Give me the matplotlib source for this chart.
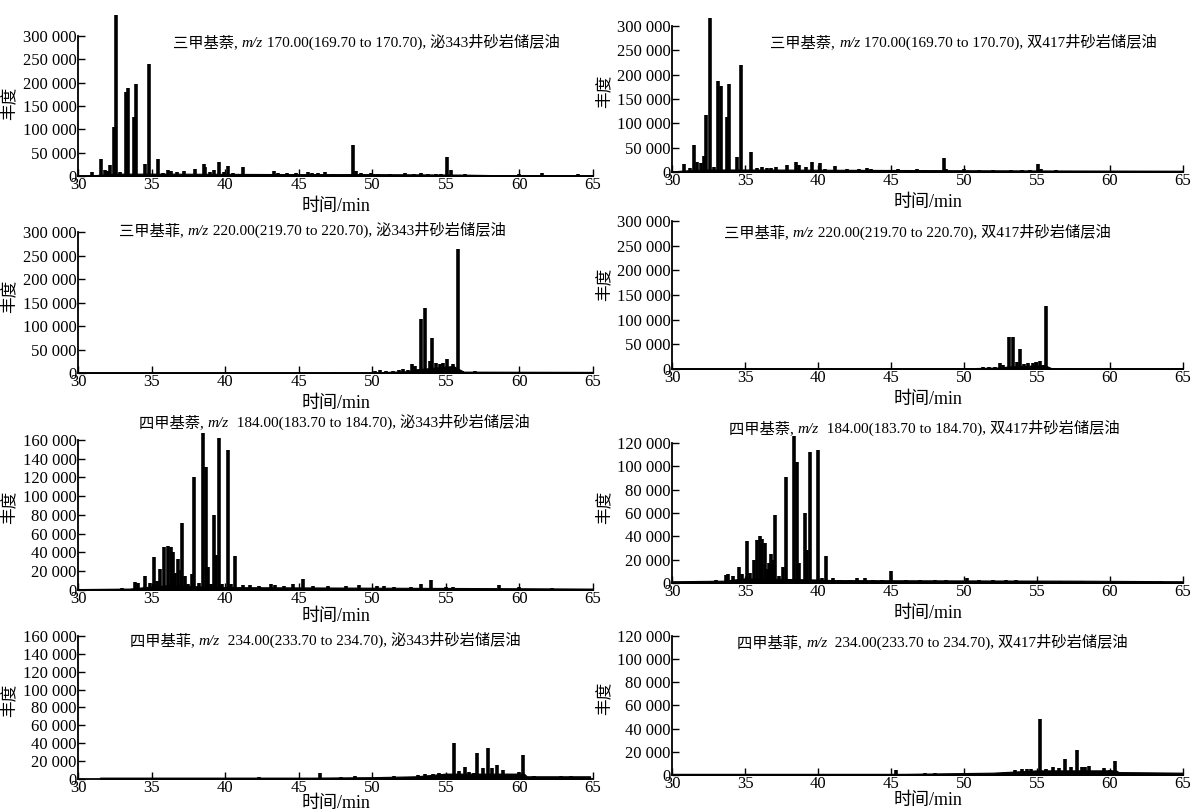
import matplotlib.pyplot as plt
from matplotlib.ticker import MultipleLocator, FuncFormatter
from matplotlib.offsetbox import TextArea, HPacker, AnnotationBbox

plt.rcParams['font.family'] = ['Liberation Serif', 'Noto Sans CJK SC']

# a = 泌343井, b = 双417井
# 三甲基萘 m/z 170
tmn_a_t = [30.96, 31.56, 31.8, 32.05, 32.2, 32.42, 32.60, 32.85, 33.25, 33.38, 33.83, 33.96, 34.55, 34.79, 35.46,
           35.8, 36.1, 36.35, 36.75, 37.2, 37.94, 38.54, 38.66, 39.0, 39.24, 39.6, 39.9, 40.17, 40.5, 41.2, 41.8,
           42.5, 43.35, 43.6, 44.2, 44.8, 45.6, 45.9, 46.3, 46.8, 47.3, 48.68, 48.87, 49.2, 49.9, 50.4, 51.2, 52.2,
           52.8, 53.3, 53.8, 54.3, 54.7, 55.06, 55.37, 56.3, 57.4, 59.5, 60.0, 61.56, 62.1, 63.95]
tmn_a_h = [8000, 37000, 12000, 10000, 23000, 104000, 344000, 8000, 180000, 188000, 126000, 198000, 25000, 239000, 37000,
           6000, 12000, 10000, 8000, 10000, 15000, 26000, 20000, 8000, 12000, 30000, 8000, 22000, 6000, 20000, 5000,
           5000, 10000, 7000, 6000, 6000, 8000, 7000, 6000, 8000, 5000, 66000, 10000, 6000, 6000, 5000, 5000, 6000,
           5000, 6000, 5000, 5000, 5000, 40000, 13000, 4000, 3000, 3000, 4000, 6000, 3000, 4000]
tmn_a_bt = [30, 31, 32.5, 36, 45, 50, 56, 58, 65]
tmn_a_bv = [800, 1500, 5000, 5000, 4000, 4000, 3000, 2000, 1500]

tmn_b_t = [30.85, 31.2, 31.54, 31.74, 32.0, 32.18, 32.36, 32.59, 32.9, 33.18, 33.36, 33.74, 33.92, 34.46, 34.74,
           35.41, 35.8, 36.15, 36.5, 36.8, 37.13, 37.9, 38.51, 38.7, 39.2, 39.56, 40.15, 40.5, 41.18, 42.0, 42.8,
           43.33, 43.6, 44.5, 45.5, 46.0, 46.8, 47.3, 48.6, 48.8, 50.0, 51.0, 52.0, 53.2, 54.0, 54.5, 55.08, 55.28,
           56.3, 58.0, 61.6, 63.9]
tmn_b_h = [17000, 8000, 55000, 20000, 18000, 32000, 117000, 316000, 10000, 187000, 176000, 112000, 181000, 30000, 219000,
           41000, 8000, 10000, 9000, 8000, 10000, 14000, 21000, 15000, 10000, 21000, 19000, 6000, 13000, 5000, 5000,
           8000, 6000, 4000, 5000, 4000, 5000, 4000, 28000, 6000, 5000, 3000, 4000, 3000, 3000, 3000, 17000, 6000,
           3000, 2000, 2000, 2000]
tmn_b_bt = [30, 30.6, 32, 36, 45, 50, 56, 65]
tmn_b_bv = [1000, 2500, 5000, 5000, 4000, 3500, 3000, 2500]

# 三甲基菲 m/z 220
tmp_a_t = [47.4, 50.2, 50.5, 50.9, 51.4, 51.8, 52.1, 52.4, 52.72, 52.9, 53.29, 53.6, 53.94, 54.07, 54.3, 54.59,
           54.8, 55.1, 55.45, 55.84, 56.1, 57.0, 57.8, 60.3, 63.2]
tmp_a_h = [2000, 4000, 6000, 5000, 5000, 7000, 8000, 7000, 19000, 15000, 114000, 139000, 25000, 75000, 22000, 20000,
           22000, 30000, 20000, 264000, 5000, 4000, 3000, 3000, 3000]
tmp_a_bt = [30, 50, 52.5, 53, 55.5, 56.2, 65]
tmp_a_bv = [1500, 1500, 4000, 8000, 15000, 3000, 2500]

tmp_b_t = [50.2, 50.8, 51.3, 51.7, 52.1, 52.5, 52.7, 53.08, 53.36, 53.6, 53.85, 54.1, 54.4, 54.7, 54.95, 55.18,
           55.64, 56.8]
tmp_b_h = [3000, 3000, 4000, 4000, 5000, 13000, 8000, 65000, 65000, 15000, 41000, 11000, 12000, 12000, 14000, 17000,
           128000, 2000]
tmp_b_bt = [30, 50, 52.5, 53, 55.5, 56, 65]
tmp_b_bv = [1500, 1500, 3000, 5000, 8000, 1500, 1500]

# 四甲基萘 m/z 184
temn_a_t = [32.5, 33.0, 33.9, 34.1, 34.55, 34.9, 35.15, 35.4, 35.6, 35.86, 36.12, 36.3, 36.43, 36.6, 36.82, 36.97,
            37.1, 37.28, 37.5, 37.73, 37.88, 38.2, 38.48, 38.69, 38.85, 39.05, 39.24, 39.39, 39.58, 39.8, 40.17,
            40.4, 40.7, 41.2, 41.7, 42.3, 43.1, 43.4, 44.0, 44.6, 45.3, 46.0, 47.0, 48.2, 49.1, 50.3, 50.8, 51.5,
            52.6, 53.3, 54.0, 55.0, 55.5, 56.5, 58.6, 60.0, 62.2]
temn_a_h = [1500, 2500, 9000, 7000, 15000, 8000, 35000, 10000, 22000, 46000, 47000, 46000, 40000, 18000, 33000, 21000,
            71000, 15000, 6000, 17000, 120000, 8000, 167000, 131000, 25000, 6000, 80000, 37000, 162000, 6000, 149000,
            6000, 36000, 5000, 5000, 4000, 6000, 5000, 4000, 6000, 12000, 4000, 4000, 4000, 5000, 4000, 4000, 3000,
            3000, 6000, 11000, 3000, 3000, 2500, 5000, 3000, 2000]
temn_a_bt = [30, 33.5, 34.5, 36, 40, 41, 58, 65]
temn_a_bv = [1000, 1500, 3000, 5000, 3000, 3000, 2000, 1500]

temn_b_t = [32.8, 33.0, 33.7, 33.85, 34.2, 34.56, 34.8, 35.13, 35.35, 35.59, 35.82, 36.03, 36.18, 36.36, 36.5, 36.67,
            36.8, 36.9, 37.05, 37.3, 37.6, 37.82, 38.05, 38.38, 38.54, 38.72, 38.9, 39.1, 39.28, 39.44, 39.7, 40.03,
            40.3, 40.54, 41.0, 41.5, 42.2, 42.7, 43.2, 43.8, 44.4, 45.03, 46.0, 47.0, 48.0, 48.8, 50.2, 51.0, 52.0,
            52.87, 53.54, 55.0, 56.6, 58.08, 63.5]
temn_b_h = [2000, 3000, 7000, 8000, 6000, 14000, 8000, 36000, 9000, 20000, 37000, 40000, 38000, 34000, 12000, 17000,
            25000, 20000, 58000, 6000, 14000, 91000, 3000, 126000, 104000, 17000, 3000, 60000, 28000, 112000, 3000, 114000,
            4000, 23000, 4000, 3000, 3000, 4000, 4000, 3000, 3000, 10000, 3000, 2500, 3000, 3000, 4000, 3000, 3000,
            3000, 3000, 2000, 2000, 2000, 1500]
temn_b_bt = [30, 33.5, 35, 40, 41, 58, 65]
temn_b_bv = [1500, 2000, 4000, 3000, 2500, 2000, 1500]

# 四甲基菲 m/z 234
tempn_a_t = [42.3, 46.47, 47.9, 48.8, 51.5, 53.1, 53.6, 54.1, 54.5, 54.9, 55.2, 55.55, 55.9, 56.28, 56.6, 56.9,
             57.14, 57.5, 57.84, 58.1, 58.49, 58.88, 59.3, 59.7, 60.0, 60.26, 61.0, 62.8, 63.5]
tempn_a_h = [2000, 7000, 2500, 3000, 3000, 4000, 5000, 6000, 7000, 6000, 6000, 40000, 9000, 13000, 8000, 7000,
             29000, 12000, 35000, 12000, 16000, 10000, 5000, 6000, 8000, 27000, 3000, 3000, 3000]
tempn_a_bt = [31.5, 46, 50, 53, 55, 60.3, 60.5, 64.8]
tempn_a_bv = [1500, 1500, 2000, 3000, 6000, 6000, 3000, 3000]

tempn_b_t = [45.33, 47.3, 48.0, 51.0, 53.5, 54.0, 54.3, 54.6, 55.2, 55.6, 56.08, 56.5, 56.92, 57.3, 57.74, 58.1,
             58.3, 58.59, 59.0, 59.56, 60.0, 60.33, 62.0]
tempn_b_h = [4500, 1500, 2000, 1500, 4000, 5000, 5000, 5000, 48000, 5000, 7000, 6000, 14000, 7000, 22000, 7000,
             7000, 8000, 3000, 6000, 4000, 12000, 2000]
tempn_b_bt = [30, 46, 52, 53.5, 55, 60.4, 60.6, 65]
tempn_b_bv = [1000, 1000, 2000, 3000, 4000, 4000, 2500, 2000]

compounds = ['三甲基萘', '三甲基萘', '三甲基菲', '三甲基菲', '四甲基萘', '四甲基萘', '四甲基菲', '四甲基菲']
mz_ranges = [' 170.00(169.70 to 170.70), ', ' 170.00(169.70 to 170.70), ',
             ' 220.00(219.70 to 220.70), ', ' 220.00(219.70 to 220.70), ',
             '  184.00(183.70 to 184.70), ', '  184.00(183.70 to 184.70), ',
             '  234.00(233.70 to 234.70), ', '  234.00(233.70 to 234.70), ']
wells = ['泌343井砂岩储层油', '双417井砂岩储层油'] * 4
ymax = [300000, 300000, 300000, 300000, 160000, 120000, 160000, 120000]
ystep = [50000, 50000, 50000, 50000, 20000, 20000, 20000, 20000]

series = [
    (tmn_a_t, tmn_a_h, tmn_a_bt, tmn_a_bv),
    (tmn_b_t, tmn_b_h, tmn_b_bt, tmn_b_bv),
    (tmp_a_t, tmp_a_h, tmp_a_bt, tmp_a_bv),
    (tmp_b_t, tmp_b_h, tmp_b_bt, tmp_b_bv),
    (temn_a_t, temn_a_h, temn_a_bt, temn_a_bv),
    (temn_b_t, temn_b_h, temn_b_bt, temn_b_bv),
    (tempn_a_t, tempn_a_h, tempn_a_bt, tempn_a_bv),
    (tempn_b_t, tempn_b_h, tempn_b_bt, tempn_b_bv),
]

# axes rectangles, title positions (axes fraction), label positions
rects = [
    [0.0654, 0.783, 0.4317, 0.1726], [0.5633, 0.788, 0.4283, 0.180],
    [0.0654, 0.540, 0.4317, 0.1739], [0.5633, 0.545, 0.4283, 0.1825],
    [0.0654, 0.2725, 0.4317, 0.185], [0.5633, 0.2811, 0.4283, 0.1726],
    [0.0654, 0.0395, 0.4317, 0.1763], [0.5633, 0.0444, 0.4283, 0.1714],
]
title_pos = [(0.56, 0.955), (0.571, 0.89), (0.455, 1.014), (0.48, 0.926),
             (0.497, 1.12), (0.493, 1.107), (0.48, 0.972), (0.51, 0.957)]
ylab_y = [0.52, 0.55, 0.546, 0.574, 0.553, 0.54, 0.55, 0.55]
xlab_y = [-0.155, -0.15, -0.155, -0.15, -0.12, -0.16, -0.115, -0.12]

fmt = FuncFormatter(lambda v, p: f'{int(v):,}'.replace(',', ' '))
tp = dict(fontsize=11, color='black')

fig = plt.figure(figsize=(11.93, 8.11), dpi=100)
for i, (t, h, bt, bv) in enumerate(series):
    ax = fig.add_axes(rects[i])
    ax.fill_between(bt, 0, bv, color='black', lw=0.8)
    ax.vlines(t, 0, h, color='black', lw=2.6, clip_on=False)
    ax.set_xlim(30, 65)
    ax.set_ylim(0, ymax[i])
    ax.xaxis.set_major_locator(MultipleLocator(5))
    ax.yaxis.set_major_locator(MultipleLocator(ystep[i]))
    ax.yaxis.set_major_formatter(fmt)
    for s in ['top', 'right']:
        ax.spines[s].set_visible(False)
    for s in ['left', 'bottom']:
        ax.spines[s].set_linewidth(1.3)
    ax.tick_params(direction='in', length=5, width=1, labelsize=12, pad=1)

    # title: compound, italic m/z, mass range, well
    parts = [TextArea(compounds[i] + ', ', textprops=tp),
             TextArea('m/z', textprops=dict(tp, style='italic')),
             TextArea(mz_ranges[i] + wells[i], textprops=tp)]
    box = HPacker(children=parts, align='baseline', pad=0, sep=0)
    ab = AnnotationBbox(box, title_pos[i], xycoords='axes fraction', frameon=False,
                        box_alignment=(0.5, 0.5), annotation_clip=False)
    ax.add_artist(ab)

    ax.set_xlabel('时间/min', fontsize=13)
    ax.xaxis.set_label_coords(0.5, xlab_y[i])
    ax.set_ylabel('丰度', fontsize=12)
    ax.yaxis.set_label_coords(-0.117, ylab_y[i])

fig.savefig('out.png', dpi=100)
